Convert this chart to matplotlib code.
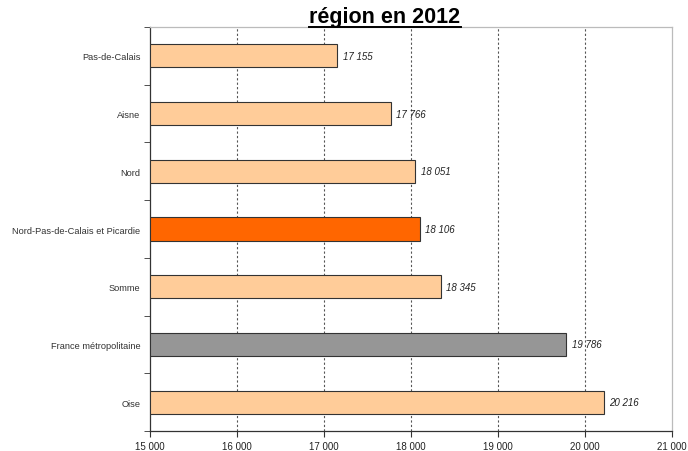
import matplotlib
matplotlib.use("Agg")
import matplotlib.pyplot as plt
from matplotlib.lines import Line2D
from matplotlib.ticker import FixedLocator, FuncFormatter

plt.rcParams['font.family'] = ['Liberation Sans', 'DejaVu Sans']

# data, drawn top to bottom
regions = ['Pas-de-Calais', 'Aisne', 'Nord', 'Nord-Pas-de-Calais et Picardie',
           'Somme', 'France métropolitaine', 'Oise']
values = [17155, 17766, 18051, 18106, 18345, 19786, 20216]
colors = ['#FFCC99', '#FFCC99', '#FFCC99', '#FF6600', '#FFCC99', '#969696', '#FFCC99']
xticks = [15000, 16000, 17000, 18000, 19000, 20000, 21000]

def fmt(v):
    return '{:,}'.format(int(v)).replace(',', ' ')

fig = plt.figure(figsize=(6.88, 4.52), dpi=100)
ax = fig.add_axes([150/688, 20/452, 522/688, 404/452])

n = len(regions)
ypos = list(range(n))
ax.barh(ypos, [v - xticks[0] for v in values], left=xticks[0], height=0.4,
        color=colors, edgecolor='#333333', linewidth=0.8, zorder=3)

for y, v in zip(ypos, values):
    ax.text(v + 60, y, fmt(v), va='center', ha='left', fontsize=7,
            style='italic', color='#222222', zorder=4)

ax.set_xlim(xticks[0], xticks[-1])
ax.set_ylim(n - 0.5, -0.5)
ax.xaxis.set_major_locator(FixedLocator(xticks))
ax.xaxis.set_major_formatter(FuncFormatter(lambda v, p: fmt(v)))
ax.set_yticks(ypos)
ax.set_yticklabels(regions)
ax.yaxis.set_minor_locator(FixedLocator([i - 0.5 for i in range(n + 1)]))
ax.tick_params(axis='y', which='major', length=0, labelsize=6.7, pad=7, colors='#333333')
ax.tick_params(axis='y', which='minor', length=4, color='#333333')
ax.tick_params(axis='x', length=4, labelsize=7, color='#333333', pad=3, labelcolor='#222222')

for t in xticks[1:-1]:
    ax.axvline(t, color='#555555', linestyle=(0, (2, 2)), linewidth=0.8, zorder=1)

for s in ['left', 'bottom']:
    ax.spines[s].set_color('#333333')
    ax.spines[s].set_linewidth(0.9)
for s in ['top', 'right']:
    ax.spines[s].set_color('#BBBBBB')
    ax.spines[s].set_linewidth(0.9)

# underlined title
title = fig.text(385/688, 1 - 17/452, 'région en 2012', ha='center', va='center',
                 fontsize=15.5, fontweight='bold')
fig.canvas.draw()
bb = title.get_window_extent(fig.canvas.get_renderer()).transformed(fig.transFigure.inverted())
yl = bb.y0 - 0.002
fig.add_artist(Line2D([bb.x0, bb.x1], [yl, yl], transform=fig.transFigure,
                      color='black', linewidth=1.4))

fig.savefig('out.png', dpi=100)
